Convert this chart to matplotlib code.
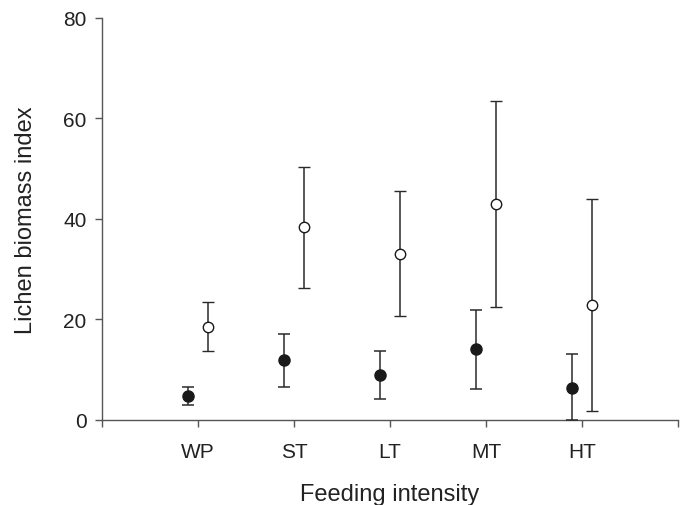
import numpy as np
import matplotlib
matplotlib.use("Agg")
import matplotlib.pyplot as plt

plt.rcParams['font.family'] = ['Liberation Sans', 'DejaVu Sans']

# ==========================================================
# dados
# ==========================================================
categorias = ['WP', 'ST', 'LT', 'MT', 'HT']

# pontos cheios
cheio_media = [4.8, 11.9, 9.0, 14.1, 6.4]
cheio_sup = [6.6, 17.1, 13.8, 21.9, 13.1]
cheio_inf = [2.9, 6.6, 4.2, 6.2, 0.0]

# pontos abertos
aberto_media = [18.6, 38.4, 33.0, 43.0, 22.9]
aberto_sup = [23.5, 50.4, 45.5, 63.4, 43.9]
aberto_inf = [13.7, 26.3, 20.6, 22.5, 1.8]

# ==========================================================
# grafico
# ==========================================================
x = np.arange(1, len(categorias) + 1)
cor = '#1a1a1a'
cor_eixo = '#555555'

fig = plt.figure(figsize=(6.83, 5.06), dpi=100)
ax = fig.add_axes([0.1493, 0.168, 0.8434, 0.7945])

err_c = [np.array(cheio_media) - np.array(cheio_inf),
         np.array(cheio_sup) - np.array(cheio_media)]
err_a = [np.array(aberto_media) - np.array(aberto_inf),
         np.array(aberto_sup) - np.array(aberto_media)]

ax.errorbar(x - 0.1, cheio_media, yerr=err_c, fmt='o', color=cor,
            ecolor='#2a2a2a', elinewidth=1.1, capsize=4, capthick=1.1,
            markersize=8, clip_on=False, zorder=3)
ax.errorbar(x + 0.1, aberto_media, yerr=err_a, fmt='o', color=cor,
            ecolor='#2a2a2a', elinewidth=1.1, capsize=4, capthick=1.1,
            markersize=7.5, markerfacecolor='white', markeredgewidth=1.0,
            clip_on=False, zorder=3)

ax.set_xlim(0, 6)
ax.set_ylim(0, 80)
ax.set_xticks(range(0, 7))
ax.set_xticklabels([''] + categorias + [''])
ax.set_yticks([0, 20, 40, 60, 80])

for lado in ['top', 'right']:
    ax.spines[lado].set_visible(False)
for lado in ['left', 'bottom']:
    ax.spines[lado].set_color(cor_eixo)
    ax.spines[lado].set_linewidth(1.0)

ax.tick_params(axis='both', direction='out', length=5, width=1.0,
               color=cor_eixo, labelsize=15, labelcolor='#222222')
ax.tick_params(axis='x', pad=11)
ax.tick_params(axis='y', pad=6)

ax.set_xlabel('Feeding intensity', fontsize=17, color='#222222', labelpad=16)
ax.set_ylabel('Lichen biomass index', fontsize=17, color='#222222', labelpad=19)

plt.savefig('out.png', dpi=100)
plt.close()
